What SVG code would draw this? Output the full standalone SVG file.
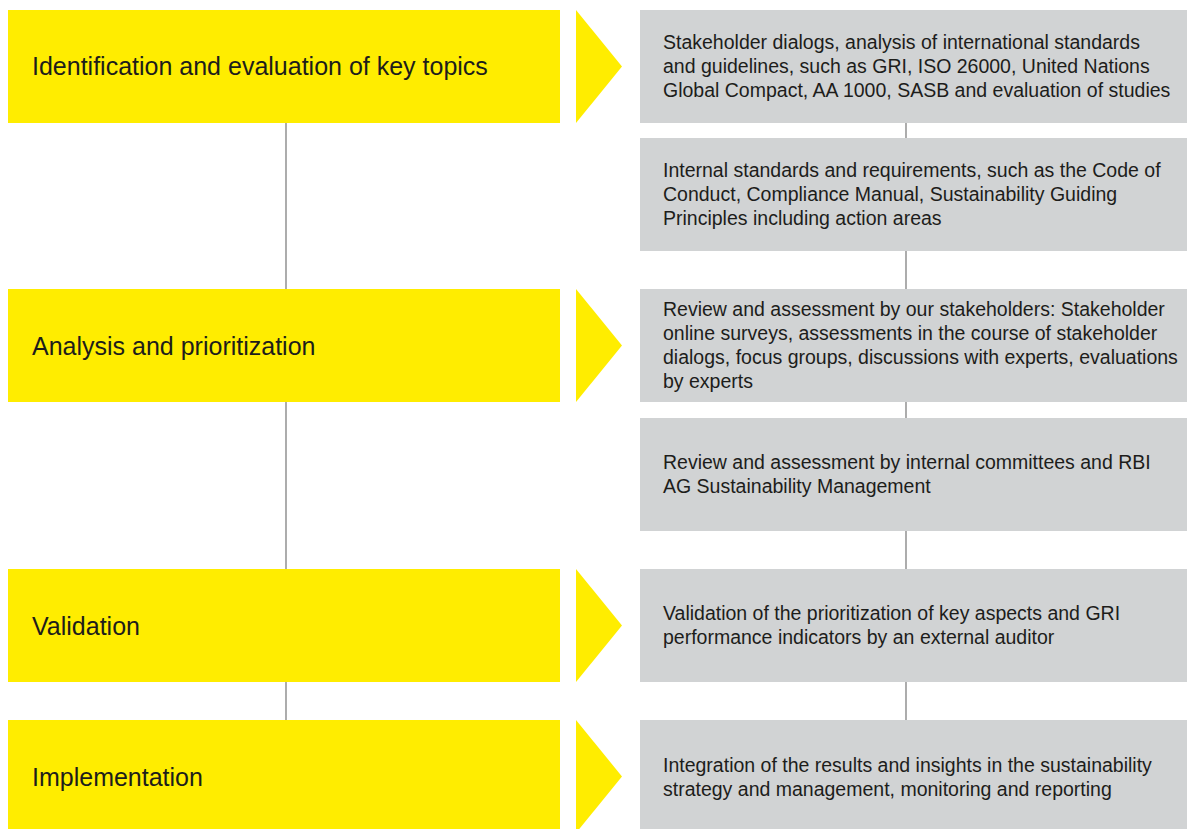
<svg xmlns="http://www.w3.org/2000/svg" width="1187" height="829" viewBox="0 0 1187 829">
<style>
.step{fill:#FFED00}
.info{fill:#D1D3D4}
.title{font-family:"Liberation Sans",Arial,sans-serif;font-size:25px;fill:#1D1D1B}
.desc{font-family:"Liberation Sans",Arial,sans-serif;font-size:19.5px;fill:#1D1D1B}
.conn line{stroke:#808080;stroke-width:1.3}
</style>
<rect width="1187" height="829" fill="#FFFFFF"/>
<g class="conn" id="connectors">
<line x1="286" y1="123" x2="286" y2="289"/>
<line x1="286" y1="402" x2="286" y2="569"/>
<line x1="286" y1="682" x2="286" y2="720"/>
<line x1="906" y1="123" x2="906" y2="138"/>
<line x1="906" y1="251" x2="906" y2="289"/>
<line x1="906" y1="402" x2="906" y2="418"/>
<line x1="906" y1="531" x2="906" y2="569"/>
<line x1="906" y1="682" x2="906" y2="720"/>
</g>
<g id="step1">
<rect class="step" x="8" y="10" width="552" height="113"/>
<polygon class="step" points="576,10 622,66.5 576,123"/>
<text class="title" x="32" y="75">Identification and evaluation of key topics</text>
</g>
<g id="step2">
<rect class="step" x="8" y="289" width="552" height="113"/>
<polygon class="step" points="576,289 622,345.5 576,402"/>
<text class="title" x="32" y="355">Analysis and prioritization</text>
</g>
<g id="step3">
<rect class="step" x="8" y="569" width="552" height="113"/>
<polygon class="step" points="576,569 622,625.5 576,682"/>
<text class="title" x="32" y="635">Validation</text>
</g>
<g id="step4">
<rect class="step" x="8" y="720" width="552" height="113"/>
<polygon class="step" points="576,720 622,776.5 576,833"/>
<text class="title" x="32" y="786">Implementation</text>
</g>
<g id="info1">
<rect class="info" x="640" y="10" width="547" height="113"/>
<text class="desc"><tspan x="663" y="49">Stakeholder dialogs, analysis of international standards</tspan><tspan x="663" y="73">and guidelines, such as GRI, ISO 26000, United Nations</tspan><tspan x="663" y="97">Global Compact, AA 1000, SASB and evaluation of studies</tspan></text>
</g>
<g id="info2">
<rect class="info" x="640" y="138" width="547" height="113"/>
<text class="desc"><tspan x="663" y="177">Internal standards and requirements, such as the Code of</tspan><tspan x="663" y="201">Conduct, Compliance Manual, Sustainability Guiding</tspan><tspan x="663" y="225">Principles including action areas</tspan></text>
</g>
<g id="info3">
<rect class="info" x="640" y="289" width="547" height="113"/>
<text class="desc"><tspan x="663" y="316">Review and assessment by our stakeholders: Stakeholder</tspan><tspan x="663" y="340">online surveys, assessments in the course of stakeholder</tspan><tspan x="663" y="364">dialogs, focus groups, discussions with experts, evaluations</tspan><tspan x="663" y="388">by experts</tspan></text>
</g>
<g id="info4">
<rect class="info" x="640" y="418" width="547" height="113"/>
<text class="desc"><tspan x="663" y="469">Review and assessment by internal committees and RBI</tspan><tspan x="663" y="493">AG Sustainability Management</tspan></text>
</g>
<g id="info5">
<rect class="info" x="640" y="569" width="547" height="113"/>
<text class="desc"><tspan x="663" y="620">Validation of the prioritization of key aspects and GRI</tspan><tspan x="663" y="644">performance indicators by an external auditor</tspan></text>
</g>
<g id="info6">
<rect class="info" x="640" y="720" width="547" height="113"/>
<text class="desc"><tspan x="663" y="772">Integration of the results and insights in the sustainability</tspan><tspan x="663" y="796">strategy and management, monitoring and reporting</tspan></text>
</g>
</svg>
